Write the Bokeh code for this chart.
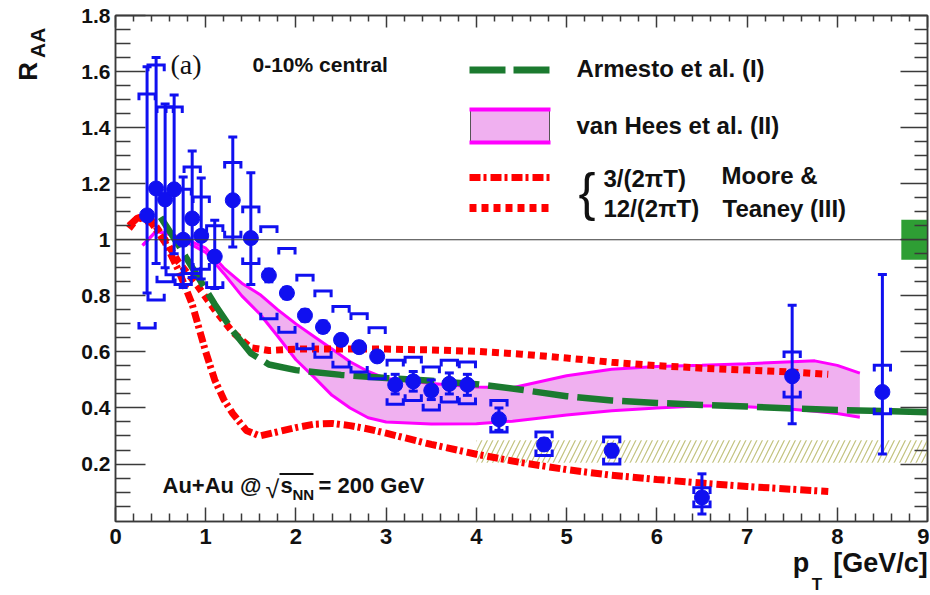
import math
from bokeh.plotting import figure
from bokeh.layouts import row
from bokeh.models import Range1d, LinearAxis, FixedTicker, Label, Span
from bokeh.embed import file_html
from bokeh.resources import INLINE

# ---------------- data ----------------
pt = [0.35, 0.45, 0.55, 0.65, 0.75, 0.85, 0.95, 1.1, 1.3, 1.5, 1.7, 1.9, 2.1, 2.3,
      2.5, 2.7, 2.9, 3.1, 3.3, 3.5, 3.7, 3.9, 4.25, 4.75, 5.5, 6.5, 7.5, 8.5]
raa = [1.087, 1.183, 1.144, 1.18, 1.0, 1.076, 1.014, 0.94, 1.141, 1.006, 0.873, 0.81,
       0.73, 0.689, 0.643, 0.617, 0.584, 0.483, 0.495, 0.462, 0.486, 0.483, 0.36,
       0.27, 0.248, 0.081, 0.513, 0.457]
stat_hi = [1.617, 1.65, 1.484, 1.516, 1.224, 1.317, 1.22, 1.07, 1.367, 1.239, 0.895,
           0.83, 0.75, 0.71, 0.66, 0.635, 0.60, 0.52, 0.53, 0.50, 0.525, 0.52, 0.40,
           0.29, 0.27, 0.165, 0.766, 0.876]
stat_lo = [0.81, 0.915, 0.90, 0.95, 0.83, 0.865, 0.86, 0.826, 0.974, 0.84, 0.85, 0.79,
           0.71, 0.67, 0.625, 0.60, 0.57, 0.45, 0.46, 0.43, 0.45, 0.445, 0.32, 0.25,
           0.225, 0.022, 0.344, 0.236]
sys_hi = [1.52, 1.623, 1.474, 1.474, 1.18, 1.26, 1.153, 1.05, 1.276, 1.117, 1.046,
          0.969, 0.873, 0.817, 0.762, 0.736, 0.686, 0.57, 0.581, 0.546, 0.57, 0.564,
          0.427, 0.314, 0.296, 0.115, 0.60, 0.552]
sys_lo = [0.685, 0.785, 0.85, 0.875, 0.84, 0.88, 0.895, 0.83, 1.01, 0.915, 0.718, 0.67,
          0.611, 0.581, 0.546, 0.528, 0.504, 0.413, 0.427, 0.393, 0.421, 0.415, 0.314,
          0.23, 0.20, 0.048, 0.439, 0.379]

# Armesto et al. (I)
arm_x = [0.5, 0.7, 0.9, 1.1, 1.3, 1.5, 1.7, 2.0, 2.5, 3.0, 3.5, 4.0, 4.5, 5.0, 5.5,
         6.0, 6.5, 7.0, 7.5, 8.0, 8.5, 9.0]
arm_y = [1.08, 0.98, 0.875, 0.77, 0.675, 0.595, 0.555, 0.535, 0.518, 0.507, 0.497,
         0.485, 0.465, 0.442, 0.427, 0.418, 0.411, 0.405, 0.398, 0.393, 0.389, 0.385]

# van Hees et al. (II) band
vh_x = [0.3, 0.45, 0.6, 0.8, 1.0, 1.2, 1.4, 1.6, 1.8, 2.0, 2.2, 2.4, 2.6, 2.8, 3.0,
        3.5, 4.0, 4.4, 5.0, 5.5, 6.0, 6.5, 7.0, 7.5, 7.75, 8.0, 8.25]
vh_hi = [0.98, 1.03, 1.02, 1.0, 0.97, 0.90, 0.845, 0.805, 0.75, 0.70, 0.655, 0.61,
         0.565, 0.53, 0.505, 0.487, 0.475, 0.472, 0.515, 0.538, 0.548, 0.552, 0.558,
         0.565, 0.568, 0.552, 0.524]
vh_lo = [0.98, 1.03, 1.02, 0.99, 0.955, 0.88, 0.80, 0.735, 0.655, 0.572, 0.51, 0.445,
         0.40, 0.365, 0.35, 0.343, 0.344, 0.353, 0.375, 0.39, 0.40, 0.408, 0.404,
         0.395, 0.388, 0.38, 0.367]

# Moore & Teaney (III): 3/(2 pi T)
mt3_x = [0.15, 0.25, 0.4, 0.55, 0.7, 0.85, 1.0, 1.1, 1.2, 1.3, 1.45, 1.6, 1.8, 2.0,
         2.2, 2.4, 2.6, 2.8, 3.0, 3.5, 4.0, 4.5, 5.0, 5.5, 6.0, 6.5, 7.0, 7.5, 7.9]
mt3_y = [1.05, 1.08, 1.06, 0.99, 0.89, 0.77, 0.60, 0.50, 0.43, 0.38, 0.32, 0.30,
         0.315, 0.33, 0.342, 0.345, 0.337, 0.325, 0.31, 0.27, 0.235, 0.205, 0.18,
         0.16, 0.145, 0.132, 0.12, 0.11, 0.102]
# Moore & Teaney (III): 12/(2 pi T)
mt12_x = [0.15, 0.25, 0.4, 0.55, 0.7, 0.9, 1.1, 1.3, 1.5, 1.7, 2.0, 2.5, 3.0, 3.5,
          4.0, 4.5, 5.0, 5.5, 6.0, 6.5, 7.0, 7.5, 7.9]
mt12_y = [1.04, 1.08, 1.07, 1.0, 0.92, 0.84, 0.75, 0.67, 0.615, 0.605, 0.61, 0.61,
          0.61, 0.607, 0.602, 0.592, 0.578, 0.563, 0.551, 0.542, 0.535, 0.528, 0.52]

# hatched band and normalisation box
hatch_x = [4.0, 9.0]
hatch_y = [0.205, 0.285]
norm_x = [8.71, 9.0]
norm_y = [0.929, 1.071]

# axes
xticks = [0, 1, 2, 3, 4, 5, 6, 7, 8, 9]
xtick_labels = ["0", "1", "2", "3", "4", "5", "6", "7", "8", "9"]
xminor = [round(k * 0.2, 1) for k in range(46) if k % 5 != 0]
yticks = [0.2, 0.4, 0.6, 0.8, 1.0, 1.2, 1.4, 1.6, 1.8]
ytick_labels = ["0.2", "0.4", "0.6", "0.8", "1", "1.2", "1.4", "1.6", "1.8"]
yminor = [round(k * 0.05, 2) for k in range(1, 37) if k % 4 != 0]

# ---------------- layout constants ----------------
LW = 60                       # narrow strip holding the rotated y title
ML, MR, MT, MB = 115, 2, 15, 74
FW, FH = 812, 506
H = MT + FH + MB
X0, X1 = 0.0, 9.0
Y0, Y1 = -0.005, 1.8
SHIFT = 0.3                   # baseline correction, fraction of font size

BLUE = "#1010f0"
RED = "#ff0000"
GREEN = "#1b7a2f"
MAG = "#ff00ff"
PINK = "#f0b0f0"
AXC = "#3a3a3a"
TXT = "#111111"
FONT = "Liberation Sans"


def dx(px):
    return X0 + (px - ML) / FW * (X1 - X0)


def dy(py):
    return Y1 - (py - MT) / FH * (Y1 - Y0)


# ---------------- y-title strip ----------------
pl = figure(width=LW, height=H, x_range=Range1d(0, LW), y_range=Range1d(H, 0),
            output_backend="svg", toolbar_location=None, title=None,
            x_axis_location=None, y_axis_location=None, min_border=0,
            min_border_left=0, min_border_right=0, min_border_top=0,
            min_border_bottom=0)
pl.grid.visible = False
pl.outline_line_color = None
pl.background_fill_color = "white"
pl.border_fill_color = "white"
pl.add_layout(Label(x=35 - SHIFT * 26, y=77, text="R", angle=math.pi / 2,
                    text_font=FONT, text_font_style="bold", text_font_size="26px",
                    text_align="left", text_baseline="alphabetic", text_color=TXT))
pl.add_layout(Label(x=43 - SHIFT * 21, y=50, text="AA", angle=math.pi / 2,
                    text_font=FONT, text_font_style="bold", text_font_size="21px",
                    text_align="left", text_baseline="alphabetic", text_color=TXT))

# ---------------- main figure ----------------
p = figure(frame_width=FW, frame_height=FH, x_range=Range1d(X0, X1),
           y_range=Range1d(Y0, Y1), output_backend="svg", toolbar_location=None,
           title=None, min_border_left=ML - LW, min_border_right=MR,
           min_border_top=MT, min_border_bottom=MB)
p.grid.visible = False
p.outline_line_color = AXC
p.outline_line_width = 1.5
p.background_fill_color = "white"
p.border_fill_color = "white"

xt = FixedTicker(ticks=xticks, minor_ticks=xminor)
yt = FixedTicker(ticks=yticks, minor_ticks=yminor)


def style_axis(ax, ticker, tin, mtin, labels=None, size="22px", standoff=4):
    ax.ticker = ticker
    ax.axis_line_color = AXC
    ax.axis_line_width = 1.5
    ax.major_tick_line_color = AXC
    ax.minor_tick_line_color = AXC
    ax.major_tick_line_width = 1.5
    ax.minor_tick_line_width = 1.5
    ax.major_tick_in = tin
    ax.major_tick_out = 0
    ax.minor_tick_in = mtin
    ax.minor_tick_out = 0
    if labels is None:
        ax.major_label_text_color = None
        ax.major_label_text_font_size = "1px"
        ax.major_label_standoff = 0
    else:
        ax.major_label_overrides = labels
        ax.major_label_text_font = FONT
        ax.major_label_text_font_style = "bold"
        ax.major_label_text_font_size = size
        ax.major_label_text_color = TXT
        ax.major_label_standoff = standoff


style_axis(p.xaxis[0], xt, 14, 8, dict(zip(xticks, xtick_labels)), "22px", 7)
style_axis(p.yaxis[0], yt, 30, 15, dict(zip(yticks, ytick_labels)), "21px", 5)
top_ax = LinearAxis()
style_axis(top_ax, xt, 12, 6)
right_ax = LinearAxis()
style_axis(right_ax, yt, 27, 13)
p.add_layout(top_ax, "above")
p.add_layout(right_ax, "right")


# x title drawn as tick labels of extra, line-less axes below the frame
def title_axis(side, ticks, texts, size, standoff):
    ax = LinearAxis(ticker=FixedTicker(ticks=ticks, minor_ticks=[]))
    ax.axis_line_color = None
    ax.major_tick_line_color = None
    ax.minor_tick_line_color = None
    ax.major_tick_in = 0
    ax.major_tick_out = 0
    ax.minor_tick_in = 0
    ax.minor_tick_out = 0
    ax.major_label_overrides = dict(zip(ticks, texts))
    ax.major_label_text_font = FONT
    ax.major_label_text_font_style = "bold"
    ax.major_label_text_font_size = size
    ax.major_label_text_color = TXT
    ax.major_label_standoff = standoff
    p.add_layout(ax, side)


title_axis("below", [round(dx(800.5), 4), round(dx(880), 4)], ["p", "[GeV/c]"],
           "27px", 1)
title_axis("below", [round(dx(816.5), 4)], ["T"], "17px", -6)

# band + reference line
p.quad(left=[hatch_x[0]], right=[hatch_x[1]], bottom=[hatch_y[0]], top=[hatch_y[1]],
       fill_alpha=0, line_alpha=0, hatch_pattern="/", hatch_color="#c2c27e",
       hatch_scale=11, hatch_weight=1.2)
p.quad(left=[norm_x[0]], right=[norm_x[1]], bottom=[norm_y[0]], top=[norm_y[1]],
       fill_color="#2e9e34", line_alpha=0)
p.add_layout(Span(location=1.0, dimension="width", line_color=AXC, line_width=1.2))

# van Hees band
p.varea(x=vh_x, y1=vh_lo, y2=vh_hi, fill_color=PINK)
p.line(vh_x, vh_hi, line_color=MAG, line_width=3)
p.line(vh_x, vh_lo, line_color=MAG, line_width=3)

# Moore & Teaney
p.line(mt3_x, mt3_y, line_color=RED, line_width=7, line_dash="11 3 3 4")
p.line(mt12_x, mt12_y, line_color=RED, line_width=7, line_dash="7 5")

# Armesto
p.line(arm_x, arm_y, line_color=GREEN, line_width=6.5, line_dash="36 9")

# data points
bw = 0.09
bh = 0.022
bx, by = [], []
for x, hi, lo in zip(pt, sys_hi, sys_lo):
    bx.append([x - bw, x - bw, x + bw, x + bw])
    by.append([hi - bh, hi, hi, hi - bh])
    bx.append([x - bw, x - bw, x + bw, x + bw])
    by.append([lo + bh, lo, lo, lo + bh])
p.multi_line(bx, by, line_color=BLUE, line_width=3, line_join="miter")
p.segment(x0=pt, y0=stat_lo, x1=pt, y1=stat_hi, line_color=BLUE, line_width=3)
p.scatter(pt, stat_hi, marker="dash", size=9, line_width=3, line_color=BLUE)
p.scatter(pt, stat_lo, marker="dash", size=9, line_width=3, line_color=BLUE)
p.scatter(pt, raa, marker="circle", size=15, fill_color=BLUE, line_color=BLUE)


# ---------------- texts inside the frame ----------------
def lab(px, py, text, size, bold=True, font=FONT, align="left", color=TXT,
        shift=SHIFT):
    p.add_layout(Label(x=dx(px), y=dy(py - shift * size), text=text,
                       text_font=font, text_font_size=f"{size}px",
                       text_font_style="bold" if bold else "normal",
                       text_align=align, text_baseline="alphabetic",
                       text_color=color))


lab(170, 72, "(a)", 28, bold=False, font="Liberation Serif")
lab(252, 70, "0-10% central", 21)

# legend
p.line([dx(469), dx(549)], [dy(69.5), dy(69.5)], line_color=GREEN, line_width=7,
       line_dash="36 8")
p.quad(left=[dx(470)], right=[dx(549)], bottom=[dy(143)], top=[dy(108)],
       fill_color=PINK, line_color="#555555", line_width=1)
p.line([dx(469), dx(550)], [dy(109), dy(109)], line_color=MAG, line_width=4)
p.line([dx(469), dx(550)], [dy(142), dy(142)], line_color=MAG, line_width=4)
p.line([dx(469), dx(549)], [dy(177), dy(177)], line_color=RED, line_width=7,
       line_dash="11 3 3 4")
p.line([dx(469), dx(549)], [dy(207.5), dy(207.5)], line_color=RED, line_width=8,
       line_dash="7 5")

lab(576, 75, "Armesto et al. (I)", 24)
lab(576, 132, "van Hees et al. (II)", 24)
lab(578, 191.5, "{", 51, bold=False, shift=0.0)
lab(603, 185, "3/(2\u03c0T)", 24)
lab(603, 215, "12/(2\u03c0T)", 24)
lab(721, 182, "Moore &", 24)
lab(722, 215, "Teaney (III)", 24)

# collision system
lab(162, 492, "Au+Au @", 22)
lab(265, 496, "\u221a", 25, bold=False)
p.line([dx(279), dx(313)], [dy(473.5), dy(473.5)], line_color=TXT, line_width=2)
lab(280, 492, "s", 22)
lab(292, 498, "NN", 15)
lab(318, 492, "= 200 GeV", 22)

layout = row(pl, p, spacing=0)
open("out.html", "w").write(file_html(layout, INLINE))
